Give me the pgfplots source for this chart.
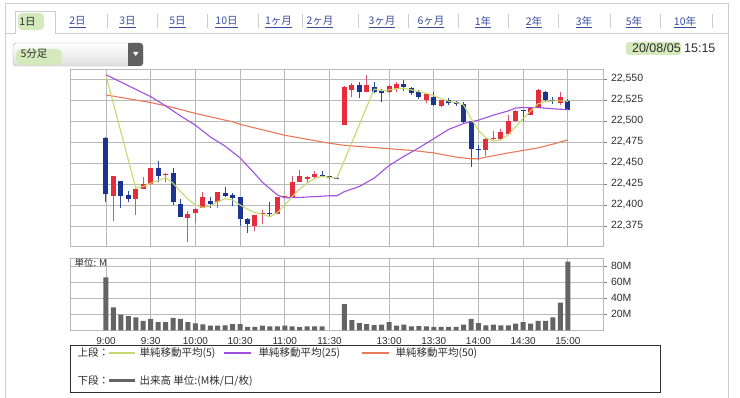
\documentclass[border=0pt]{standalone}
\usepackage{fontspec}
\setmainfont{Liberation Sans}
\newfontfamily\cjk{Noto Sans CJK JP}
\usepackage{pgfplots}
\usepackage{pgfplotstable}
\pgfplotsset{compat=1.18}

\definecolor{cred}{RGB}{230,45,60}
\definecolor{wred}{RGB}{215,85,115}
\definecolor{cblue}{RGB}{28,52,145}
\definecolor{wblue}{RGB}{50,75,160}
\definecolor{maA}{RGB}{200,216,110}
\definecolor{maB}{RGB}{160,80,225}
\definecolor{maC}{RGB}{232,122,92}
\definecolor{volg}{RGB}{100,100,100}
\definecolor{gridg}{RGB}{185,185,185}
\definecolor{frameg}{RGB}{205,205,205}
\definecolor{linkb}{RGB}{55,75,160}
\definecolor{hl}{RGB}{212,234,188}
\definecolor{txt}{RGB}{45,45,45}
\definecolor{btn}{RGB}{95,95,95}
\definecolor{ddbot}{RGB}{222,222,222}

% up candles (red)
\pgfplotstableread{
x o h l c
1 22411 22435 22381 22434.5
4 22407 22421 22388 22419
5 22419 22433 22419 22425
6 22425 22444 22424 22444
8 22435.7 22437.5 22427 22437.3
11 22385 22393 22356 22389
12 22390 22396 22378 22395
13 22397 22416 22396 22409
15 22404 22415 22396 22415
20 22375 22388 22369 22388
21 22389 22394 22377 22391
23 22389 22409 22389 22409
24 22409 22410 22408 22409.5
25 22409 22434 22408 22427
26 22427 22442 22427 22434
27 22431 22434 22426 22433
28 22433 22441 22431 22437
32 22495 22542 22495 22541
33 22537 22545 22529 22543
35 22535 22555 22535 22543
38 22534 22543 22533 22542
39 22538 22547 22535 22544
43 22525 22533 22521 22532
45 22517.5 22525 22517 22524.6
51 22466 22480 22458 22479
52 22478 22488 22477 22480
53 22479 22490 22477 22487
54 22485 22507 22484 22500
55 22500 22513 22499 22512
57 22507.5 22517 22507 22516
58 22516 22538 22516 22537
61 22522 22534 22519 22529
}\upT

% down candles (blue)
\pgfplotstableread{
x o h l c
0 22480 22481 22403 22413
2 22428 22429 22397 22411
3 22412 22417 22404 22407
7 22444 22452 22427 22434.5
9 22438 22444 22400 22403
10 22401 22407 22386 22386
14 22405 22409 22397 22401
16 22414 22421 22409 22411
17 22412 22414 22399 22408
18 22409 22410 22375 22383
19 22383 22384 22367 22377
22 22391 22404 22387 22389
29 22435 22440 22433 22434
30 22434 22434 22431 22432
31 22432 22432 22432 22431.5
34 22543 22546 22527 22535
36 22540 22546 22533 22535
37 22537 22538 22523 22533
40 22544 22549 22536 22540
41 22539 22540 22531 22533
42 22535 22537 22526 22528
44 22529 22534 22518 22519
46 22525 22527 22519 22521
47 22523 22524 22518 22520
48 22520 22523 22498 22499
49 22500 22500 22445 22467
50 22467 22471 22454 22466
56 22513 22513 22500 22512
59 22535 22536 22524 22525
60 22525 22529 22520 22524
62 22524 22526 22513 22513
}\dnT

\pgfplotstableread{
x v
0 22554
4 22420
5 22422
6 22426
7 22429
8 22432.5
9 22426
10 22416
11 22407
12 22400
13 22397
14 22399
15 22404
16 22407.5
17 22406
18 22400
19 22395
20 22391
21 22389
22 22386
23 22391
24 22400
25 22410
26 22419
27 22426
28 22431.5
29 22434
30 22433
31 22432
36 22538
37 22536
38 22537
39 22538.5
40 22539
41 22537
42 22535
43 22533
44 22530
45 22526.6
46 22523.4
47 22522
48 22519
49 22503
50 22489
51 22480
52 22476
53 22477.5
54 22483.5
55 22493.5
56 22503
57 22512
58 22520.5
59 22523
60 22524
61 22524
62 22523.5
}\maFive

\pgfplotstableread{
x v
0 22555
3 22542
6 22529
8 22518
10 22506
12 22495
14 22481
16 22470
18 22456
20 22437
21 22427
23 22412
24 22408.5
26 22409
28 22410
30 22411
31 22411
32 22416
34 22422
36 22432
38 22447
40 22458
42 22468
44 22479
46 22490
48 22497
50 22501
52 22507
54 22512
55 22515.5
56 22516
58 22516
60 22514.5
62 22513.5
}\maTwentyFive

\pgfplotstableread{
x v
0 22531
6 22522
9 22516
12 22509
17 22499
18 22496
24 22483
30 22473.5
32 22471
35 22469
38 22467
41 22465
44 22462
47 22457
49 22455
50 22455
51 22457
54 22462
56 22465
58 22468
60 22472.5
62 22477.5
}\maFifty

\pgfplotstableread{
x v
0 66
1 28.6
2 19.8
3 17.7
4 16.4
5 11.8
6 14.3
7 10.5
8 10.5
9 15.6
10 14.3
11 10.5
12 8.8
13 7.6
14 5.9
15 5.9
16 6.3
17 8
18 8
19 4.6
20 4.6
21 5.9
22 5
23 5
24 5.9
25 5
26 4.2
27 5
28 5
29 5
32 32.8
33 13
34 9.3
35 8
36 6.7
37 7.2
38 10.5
39 5.9
40 7.2
41 5
42 5.5
43 5
44 4.6
45 4.6
46 4.6
47 4.6
48 7.2
49 14.3
50 9.3
51 6.3
52 7.2
53 6.3
54 6.3
55 8.4
56 10.5
57 8.4
58 11.8
59 11.8
60 16.4
61 34.5
62 85.5
}\volT

\pgfplotsset{candle/.style={only marks, mark=*, mark size=0pt,
  mark options={draw=none, fill=none}, forget plot}}

\begin{document}
\begin{tikzpicture}[x=1pt,y=1pt]
\path[use as bounding box] (0,0) rectangle (740,398);
% outer frame
\draw[frameg, line width=0.8pt] (5,0) -- (5,395) -- (728,395) -- (728,0);
% tab bar
\draw[frameg, line width=0.8pt] (5,365) -- (15,365) -- (15,386.5) -- (55,386.5) -- (55,365) -- (728,365);
\foreach \sx in {107,157,207,258,302,358,408,458,508,558,610,660,712}
  \draw[frameg, line width=0.8pt] (\sx,370) -- (\sx,384);
\fill[hl, rounded corners=4pt] (18,368) rectangle (44,385);
\node[font=\cjk\fontsize{10.5}{12}\selectfont, text=txt] at (27.5,376) {1日};
\begin{scope}[every node/.style={font=\cjk\fontsize{10.5}{12}\selectfont, text=linkb}]
\node at (77.5,376) {\underline{2日}};
\node at (127.5,376) {\underline{3日}};
\node at (177.5,376) {\underline{5日}};
\node at (226.5,376) {\underline{10日}};
\node at (278.5,376) {\underline{1ヶ月}};
\node at (320,376) {\underline{2ヶ月}};
\node at (382,376) {\underline{3ヶ月}};
\node at (431,376) {\underline{6ヶ月}};
\node at (483,376) {\underline{1年}};
\node at (534,376) {\underline{2年}};
\node at (584,376) {\underline{3年}};
\node at (634,376) {\underline{5年}};
\node at (685,376) {\underline{10年}};
\end{scope}
% dropdown
\shade[top color=white, bottom color=ddbot, rounded corners=3pt, draw=gray!70] (13,332) rectangle (143,355);
\fill[hl, rounded corners=5pt] (16,333) rectangle (62,349);
\fill[btn, rounded corners=3pt] (128,332) rectangle (143,355);
\fill[btn] (128,332) rectangle (132,355);
\fill[white] (133,346) -- (138.5,346) -- (135.75,342) -- cycle;
\node[anchor=west, font=\cjk\fontsize{10.5}{12}\selectfont, text=txt] at (17,344) {5分足};
% date
\fill[hl, rounded corners=3pt] (626,343) rectangle (681,356);
\node[anchor=east, font=\fontsize{12.5}{14}\selectfont, text=txt] at (719,350) {20/08/05 15:15};

% price panel
\begin{axis}[
  at={(70pt,152pt)}, anchor=south west,
  scale only axis, width=533.5pt, height=177pt,
  xmin=-4.832, xmax=66.78, ymin=22351.2, ymax=22561.9,
  scaled y ticks=false,
  axis line style={draw=gridg, line width=0.8pt},
  xtick={0,6,12,18,24,30,38,44,50,56,62}, xticklabels={},
  xtick style={draw=none},
  ytick={22375,22400,22425,22450,22475,22500,22525,22550},
  yticklabels={{22,375},{22,400},{22,425},{22,450},{22,475},{22,500},{22,525},{22,550}},
  ytick pos=right, yticklabel pos=right,
  tick align=outside, major tick length=4pt,
  ytick style={draw=gray, line width=0.8pt},
  yticklabel style={font=\fontsize{10.5}{12}\selectfont, text=txt, anchor=west},
  xmajorgrids, ymajorgrids,
  grid style={draw=gridg, line width=0.8pt},
]
\addplot[candle,
  error bars/.cd, y dir=plus, y explicit, error mark=none,
  error bar style={line width=1pt, draw=wred}]
  table[x=x, y=l, y error plus expr=\thisrow{h}-\thisrow{l}] {\upT};
\addplot[candle,
  error bars/.cd, y dir=plus, y explicit, error mark=none,
  error bar style={line width=1pt, draw=wblue}]
  table[x=x, y=l, y error plus expr=\thisrow{h}-\thisrow{l}] {\dnT};
\addplot[candle,
  error bars/.cd, y dir=plus, y explicit, error mark=none,
  error bar style={line width=5pt, draw=cred}]
  table[x=x, y expr={min(\thisrow{o},\thisrow{c})}, y error plus expr={max(abs(\thisrow{c}-\thisrow{o}),1.2)}] {\upT};
\addplot[candle,
  error bars/.cd, y dir=plus, y explicit, error mark=none,
  error bar style={line width=5pt, draw=cblue}]
  table[x=x, y expr={min(\thisrow{o},\thisrow{c})}, y error plus expr={max(abs(\thisrow{c}-\thisrow{o}),1.2)}] {\dnT};
\addplot[maC, line width=1.1pt] table[x=x,y=v] {\maFifty};
\addplot[maB, line width=1.1pt] table[x=x,y=v] {\maTwentyFive};
\addplot[maA, line width=1.1pt] table[x=x,y=v] {\maFive};
\end{axis}

% volume panel
\begin{axis}[
  at={(70pt,67.5pt)}, anchor=south west,
  scale only axis, width=533.5pt, height=72.5pt,
  xmin=-4.832, xmax=66.78, ymin=0, ymax=90,
  axis line style={draw=gridg, line width=0.8pt},
  xtick={0,6,12,18,24,30,38,44,50,56,62},
  xticklabels={9:00,9:30,10:00,10:30,11:00,11:30,13:00,13:30,14:00,14:30,15:00},
  xtick style={draw=none},
  xticklabel style={font=\fontsize{10}{12}\selectfont, text=txt, yshift=1pt},
  ytick={20,40,60,80}, yticklabels={20M,40M,60M,80M},
  ytick pos=right, yticklabel pos=right,
  tick align=outside, major tick length=4pt,
  ytick style={draw=gray, line width=0.8pt},
  yticklabel style={font=\fontsize{10.5}{12}\selectfont, text=txt, anchor=west},
  xmajorgrids, ymajorgrids,
  grid style={draw=gridg, line width=0.8pt},
]
\addplot[ybar, bar width=5pt, fill=volg, draw=none] table[x=x,y=v] {\volT};
\end{axis}
\node[anchor=west, font=\cjk\fontsize{9.5}{11}\selectfont, text=txt] at (71,135) {単位: M};

% legend
\draw[txt, line width=0.8pt] (70,6) rectangle (660,53);
\begin{scope}[every node/.style={anchor=west, font=\cjk\fontsize{10.5}{12}\selectfont, text=txt}]
\node at (74,45) {上段：};
\draw[maA, line width=1.1pt] (109,45) -- (135,45);
\node at (136,45) {単純移動平均(5)};
\draw[maB, line width=1.1pt] (224,45) -- (251,45);
\node at (255,45) {単純移動平均(25)};
\draw[maC, line width=1.1pt] (362,45) -- (389,45);
\node at (392,45) {単純移動平均(50)};
\node at (74,17) {下段：};
\draw[volg, line width=3pt] (109,17) -- (135,17);
\node at (136,17) {出来高 単位:(M株/口/枚)};
\end{scope}
\end{tikzpicture}
\end{document}
